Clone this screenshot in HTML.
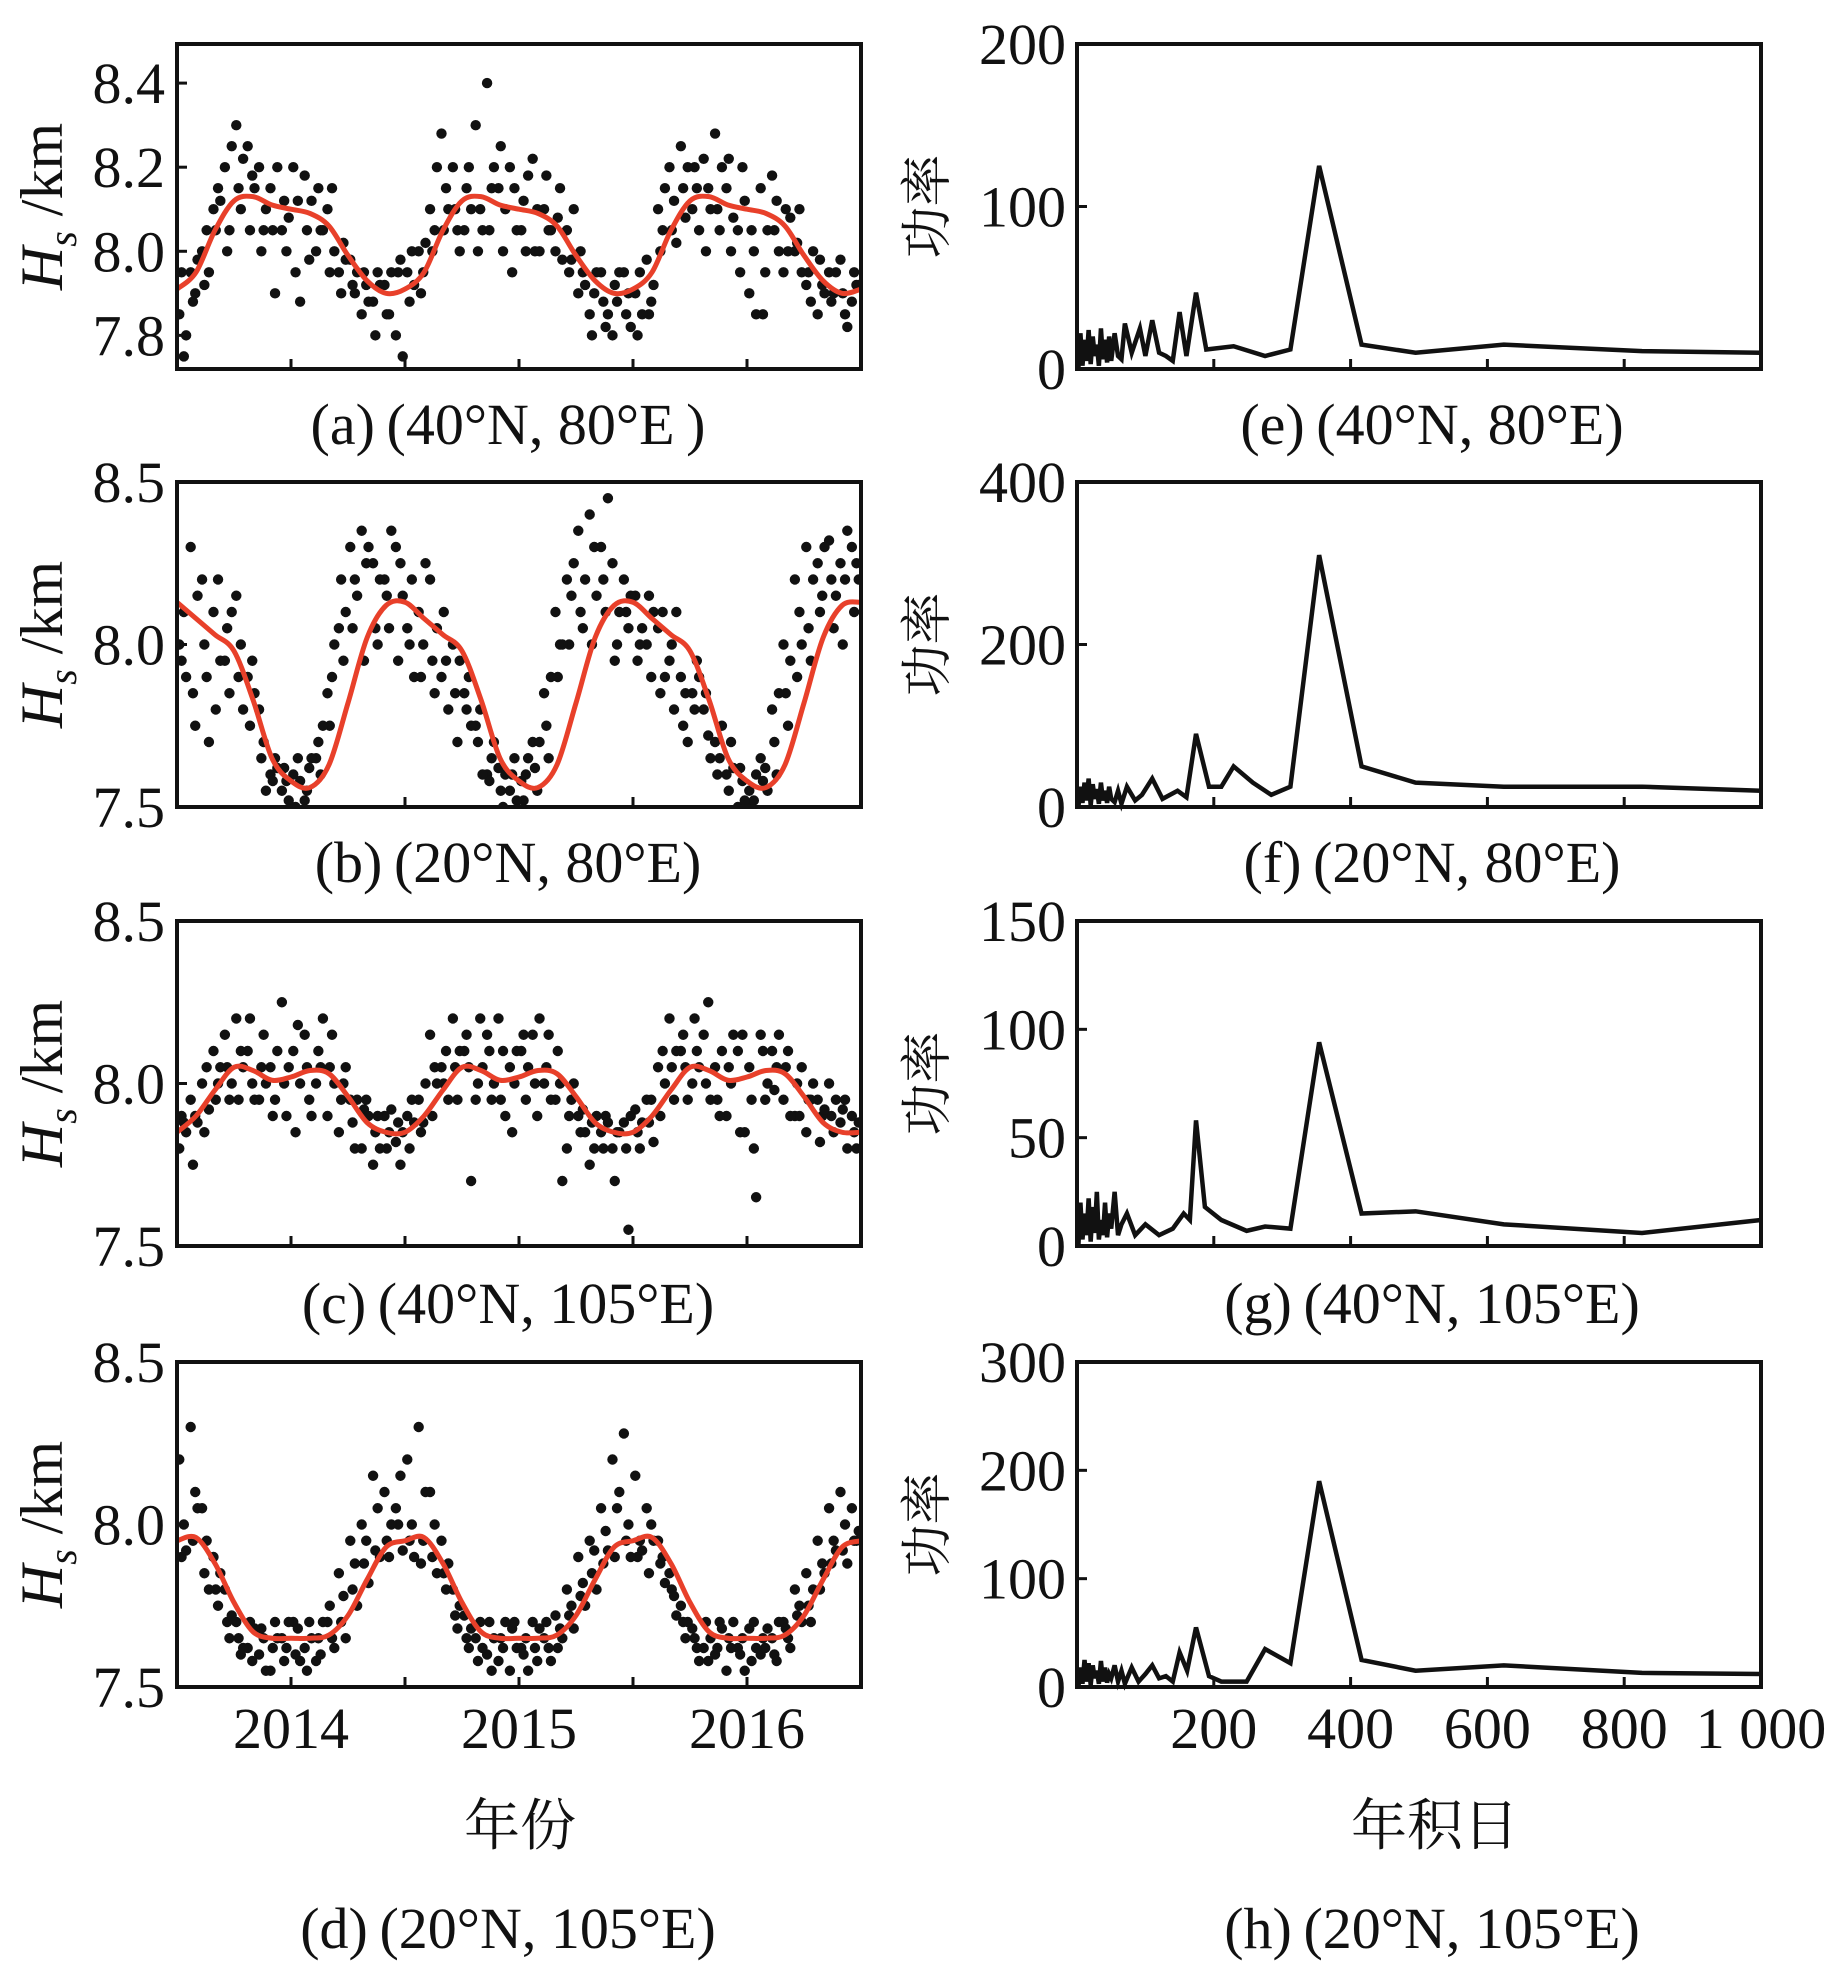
<!DOCTYPE html>
<html><head><meta charset="utf-8"><style>
html,body{margin:0;padding:0;background:#fff}
svg{display:block}
text{font-family:"Liberation Serif","Noto Serif CJK SC",serif;fill:#111}
</style></head><body>
<svg id="fig" width="1843" height="1961" viewBox="0 0 1843 1961" xmlns="http://www.w3.org/2000/svg"></svg>
<script>
// ---------- data ----------
const yearTicks=[2014,2015,2016];
const curveA=[7.91,7.95,8.05,8.12,8.13,8.11,8.10,8.09,8.06,7.99,7.93,7.90];
const curveB=[8.13,8.08,8.03,7.98,7.83,7.65,7.58,7.56,7.63,7.82,8.02,8.12];
const curveC=[7.85,7.90,7.98,8.05,8.04,8.01,8.02,8.04,8.03,7.96,7.88,7.85];
const curveD=[7.95,7.96,7.88,7.76,7.67,7.65,7.65,7.65,7.66,7.72,7.83,7.93];
const aS1=[7.85,7.95,8.00,8.10,8.20,8.30,8.25,8.20,8.15,8.05,8.20,8.18,8.00,8.10,7.95,7.98,7.85,7.88,7.92,7.80,7.95,8.00,8.10,8.28,8.20,8.05,8.30,8.40,8.15,8.20,8.05,8.22,8.10,8.00,8.05,7.90,7.85,7.95,7.80,7.95,7.90,7.98,8.10,8.20,8.25,8.10,8.22,8.28,8.15,8.05,7.90,8.15,8.18,7.95,8.00,7.92,7.85,7.95,7.98,7.88];
const aS2=[7.95,7.88,7.92,8.05,8.00,8.15,8.05,8.00,8.05,8.12,7.95,8.05,8.15,7.95,7.90,7.92,7.95,7.80,7.85,7.95,7.88,7.90,8.00,8.05,8.10,8.15,8.00,8.05,8.25,7.95,8.12,8.00,8.18,8.08,7.95,8.00,7.80,7.88,7.92,7.85,7.80,7.85,8.00,8.05,8.15,8.20,8.00,8.10,8.22,7.95,8.05,7.85,8.05,8.10,8.02,7.95,7.98,7.88,7.90,7.95];
const aS3=[7.75,7.90,8.05,8.15,8.05,8.10,8.18,8.05,7.90,8.00,8.12,7.98,8.05,8.15,8.02,7.90,7.92,7.95,7.85,7.98,8.00,7.95,8.05,8.15,8.05,8.20,8.10,8.15,8.00,8.15,8.00,8.10,8.05,8.15,7.98,7.95,7.90,7.82,7.88,7.90,7.95,7.88,8.05,8.12,8.08,8.15,8.15,8.05,8.00,8.20,8.00,7.95,8.12,8.00,8.10,7.88,7.92,7.90,7.85,7.92];
const aS4=[7.80,7.98,7.95,8.12,8.25,8.22,8.15,8.10,8.20,8.08,7.88,8.12,8.05,8.00,7.98,7.95,7.88,7.92,7.95,7.75,7.92,8.02,8.20,8.10,8.00,8.10,8.05,8.20,8.10,8.05,8.18,8.00,8.05,7.98,8.10,7.92,7.95,7.85,7.95,7.82,7.85,7.92,8.15,8.02,8.20,8.05,8.10,8.20,8.08,8.12,7.85,8.05,8.00,8.08,7.95,8.00,7.90,7.95,7.82,7.92];
const bS1=[8.00,8.30,8.20,8.10,7.95,8.15,7.90,7.80,7.60,7.55,7.60,7.52,7.65,7.85,8.05,8.30,8.35,8.25,8.20,8.30,8.05,8.10,8.20,7.90,8.00,7.85,7.75,7.60,7.62,7.55,7.58,7.70,7.85,8.10,8.20,8.35,8.40,8.30,8.25,8.20,8.15,8.00,8.05,7.95,7.90,7.85,7.80,7.70,7.60,7.50,7.55,7.65,7.80,8.00,8.20,8.30,8.25,8.32,8.25,8.30];
const bS2=[7.95,7.85,8.00,7.80,8.05,7.90,7.75,7.65,7.58,7.62,7.50,7.55,7.70,7.75,8.20,8.05,7.95,8.05,8.15,7.95,8.00,7.90,7.95,8.10,7.85,7.80,7.70,7.58,7.55,7.60,7.52,7.62,7.75,7.90,8.00,8.10,8.00,8.20,7.95,8.10,7.95,8.15,7.85,8.00,7.75,7.80,7.85,7.60,7.55,7.62,7.50,7.58,7.70,7.85,7.90,8.05,8.10,8.20,8.00,8.10];
const bS3=[8.10,7.75,7.90,8.20,7.85,8.00,7.95,7.70,7.65,7.58,7.65,7.62,7.60,7.90,7.95,8.20,8.25,8.00,8.05,8.25,8.20,8.00,7.85,7.95,7.70,7.90,7.80,7.65,7.50,7.65,7.60,7.55,7.65,8.00,8.15,8.05,8.30,8.10,8.00,8.05,8.00,7.90,8.10,7.80,7.85,7.95,7.72,7.65,7.70,7.58,7.52,7.62,7.60,7.75,8.10,7.95,8.15,8.05,8.20,8.25];
const bS4=[7.90,8.15,7.70,7.95,8.10,7.80,7.85,7.55,7.62,7.52,7.58,7.65,7.75,8.00,8.10,8.15,8.30,8.20,8.35,8.15,7.90,8.25,8.05,7.80,7.95,7.75,7.60,7.70,7.60,7.52,7.65,7.70,7.90,8.00,8.25,8.20,8.15,8.45,8.10,8.15,8.05,8.10,7.90,8.10,7.70,7.90,7.65,7.75,7.62,7.52,7.60,7.55,7.85,7.95,8.00,8.20,8.30,8.15,8.35,8.20];
const cS1=[7.80,7.95,8.00,8.10,8.15,8.20,8.10,7.95,8.05,8.25,8.10,8.15,8.00,7.90,7.85,7.95,7.80,7.75,7.90,7.82,7.90,7.95,8.15,8.05,8.20,8.10,7.95,8.15,8.20,8.05,8.10,8.15,8.00,7.95,7.80,7.90,7.75,7.85,7.80,7.88,7.92,7.95,8.05,8.20,8.10,8.00,8.15,8.05,7.90,8.10,8.05,8.15,8.10,7.95,7.90,7.85,7.95,8.00,7.88,7.90];
const cS2=[7.90,7.75,7.85,7.95,8.05,7.95,8.20,8.05,7.90,8.00,7.85,8.05,8.10,8.05,7.95,7.88,7.92,7.85,7.80,7.88,7.80,7.85,7.90,8.00,8.05,8.15,8.00,8.10,7.95,7.85,8.15,8.00,8.05,8.10,7.90,7.85,7.88,7.80,7.70,7.80,7.85,7.88,7.90,8.05,8.15,8.20,8.00,7.95,8.05,7.85,7.95,8.10,7.98,8.05,8.00,7.95,7.82,7.90,7.92,7.85];
const cS3=[7.88,7.90,8.05,8.00,7.95,8.10,8.00,8.15,7.95,7.90,8.18,7.95,8.05,8.15,8.00,7.80,7.95,7.90,7.85,7.75,7.95,7.88,8.05,8.10,7.95,8.05,8.20,7.95,8.10,8.00,7.95,7.90,8.15,8.00,7.95,7.92,7.80,7.90,7.85,7.55,7.80,7.95,8.10,7.95,8.05,8.10,8.25,7.90,8.00,8.15,7.80,7.95,8.05,8.10,7.90,7.95,7.90,7.85,7.95,7.80];
const cS4=[7.85,7.88,7.92,8.05,8.00,8.05,7.95,8.00,8.10,8.05,8.00,7.90,8.20,8.00,8.05,7.95,7.90,7.80,7.92,7.85,7.88,8.00,8.00,7.95,8.10,7.70,8.05,8.00,7.90,8.10,8.05,8.20,7.95,7.70,8.00,7.85,7.90,7.88,7.85,7.90,7.88,7.82,8.00,8.10,7.95,8.05,7.95,8.10,8.15,7.85,7.65,8.00,8.15,7.90,8.05,8.00,7.92,7.95,7.80,7.88];
const dS1=[8.20,8.30,8.05,7.90,7.80,7.70,7.62,7.60,7.55,7.65,7.70,7.62,7.58,7.70,7.85,7.95,8.00,8.15,8.10,8.05,8.20,8.30,8.10,7.95,7.80,7.72,7.65,7.60,7.58,7.55,7.62,7.70,7.65,7.72,7.80,7.90,7.95,8.05,8.20,8.28,8.15,8.05,7.95,7.85,7.75,7.68,7.62,7.60,7.55,7.62,7.68,7.60,7.65,7.70,7.80,7.85,7.95,8.05,8.10,8.05];
const dS2=[7.90,7.95,7.85,7.80,7.70,7.65,7.70,7.68,7.62,7.58,7.60,7.55,7.65,7.75,7.70,7.80,7.88,7.92,7.95,8.00,7.95,7.88,7.90,7.85,7.72,7.65,7.58,7.70,7.65,7.68,7.60,7.62,7.70,7.62,7.72,7.78,7.85,7.88,7.90,7.95,7.90,7.85,7.88,7.80,7.70,7.65,7.70,7.62,7.65,7.60,7.58,7.65,7.60,7.68,7.72,7.75,7.80,7.88,7.92,7.95];
const dS3=[8.00,8.10,7.95,7.75,7.65,7.60,7.58,7.65,7.70,7.62,7.68,7.70,7.60,7.65,7.78,7.88,7.95,8.05,7.90,8.15,8.00,7.95,8.00,7.80,7.68,7.62,7.70,7.55,7.62,7.70,7.65,7.58,7.62,7.68,7.75,7.82,7.92,7.98,8.05,8.00,7.95,8.00,7.90,7.78,7.65,7.62,7.58,7.70,7.62,7.65,7.70,7.62,7.58,7.65,7.75,7.70,7.88,7.95,8.00,7.95];
const dS4=[7.92,8.05,7.80,7.85,7.72,7.62,7.68,7.55,7.65,7.70,7.58,7.65,7.70,7.62,7.65,7.75,7.82,7.90,8.00,7.92,7.90,8.10,7.85,7.88,7.75,7.68,7.62,7.65,7.70,7.62,7.55,7.68,7.58,7.65,7.68,7.75,7.80,7.92,8.10,7.90,7.92,7.95,7.82,7.72,7.70,7.58,7.65,7.68,7.70,7.55,7.62,7.68,7.70,7.62,7.70,7.80,7.85,7.92,7.88,7.98];
const dayTicks=[200,400,600,800];
const eX=[2,5,8,11,14,17,20,23,26,29,32,35,38,41,44,47,50,55,60,65,70,80,92,100,110,120,130,140,150,160,174,189,229,275,312,354,416,495,624,826,1000];
const eY=[0,22,2,18,5,24,3,20,8,15,2,25,6,18,4,20,5,22,8,6,28,10,25,8,30,10,8,5,35,8,47,12,14,8,12,125,15,10,15,11,10];
const fX=[2,5,8,11,14,17,20,23,26,29,32,35,38,41,44,47,50,55,60,65,73,85,95,110,125,147,160,174,193,211,229,257,284,312,354,416,495,624,826,1000];
const fY=[0,25,5,30,8,35,2,28,10,22,4,30,8,20,5,25,10,6,20,4,25,8,15,35,10,20,12,90,25,25,50,30,15,25,310,50,30,25,25,20];
const gX=[2,5,8,11,14,17,20,23,26,29,32,35,38,41,44,47,50,55,60,65,73,85,100,120,140,156,165,174,187,211,248,275,312,354,416,495,624,826,1000];
const gY=[0,20,3,15,5,22,2,18,6,25,3,12,5,20,4,15,8,25,5,10,15,5,10,5,8,15,12,58,18,12,7,9,8,94,15,16,10,6,12];
const hX=[2,5,8,11,14,17,20,23,26,29,32,35,38,41,44,47,50,55,60,65,70,80,90,100,110,120,130,140,150,161,174,193,211,248,275,312,354,416,495,624,826,1000];
const hY=[0,18,3,25,5,22,2,20,8,15,3,24,5,18,4,12,8,20,5,15,3,18,5,12,20,8,10,5,32,15,55,10,5,5,35,22,190,25,15,20,13,12];

// ---------- drawing ----------
const NS="http://www.w3.org/2000/svg";
const svg=document.getElementById('fig');
function mk(tag,attrs,parent){const e=document.createElementNS(NS,tag);for(const k in attrs)e.setAttribute(k,attrs[k]);(parent||svg).appendChild(e);return e;}

const rows=[44,482,921,1362], H=325;
const LX0=177,LX1=861, RX0=1077,RX1=1761;

function catmull(pts){let d='M'+pts[0][0]+','+pts[0][1];for(let i=0;i<pts.length-1;i++){const p0=pts[Math.max(i-1,0)],p1=pts[i],p2=pts[i+1],p3=pts[Math.min(i+2,pts.length-1)];d+=' C'+(p1[0]+(p2[0]-p0[0])/6)+','+(p1[1]+(p2[1]-p0[1])/6)+' '+(p2[0]-(p3[0]-p1[0])/6)+','+(p2[1]-(p3[1]-p1[1])/6)+' '+p2[0]+','+p2[1];}return d;}

const leftPanels=[
 {id:'a',ymin:7.72,ymax:8.493,ticks:[7.8,8.0,8.2,8.4],curve:curveA,series:[aS1,aS2,aS3,aS4],cap:'(a)\u2009(40°N, 80°E\u2009)'},
 {id:'b',ymin:7.5,ymax:8.5,ticks:[7.5,8.0,8.5],curve:curveB,series:[bS1,bS2,bS3,bS4],cap:'(b)\u2009(20°N, 80°E)'},
 {id:'c',ymin:7.5,ymax:8.5,ticks:[7.5,8.0,8.5],curve:curveC,series:[cS1,cS2,cS3,cS4],cap:'(c)\u2009(40°N, 105°E)'},
 {id:'d',ymin:7.5,ymax:8.5,ticks:[7.5,8.0,8.5],curve:curveD,series:[dS1,dS2,dS3,dS4],cap:'(d)\u2009(20°N, 105°E)'}
];
const rightPanels=[
 {id:'e',ymax:200,ticks:[0,100,200],xs:eX,ys:eY,cap:'(e)\u2009(40°N, 80°E)'},
 {id:'f',ymax:400,ticks:[0,200,400],xs:fX,ys:fY,cap:'(f)\u2009(20°N, 80°E)'},
 {id:'g',ymax:150,ticks:[0,50,100,150],xs:gX,ys:gY,cap:'(g)\u2009(40°N, 105°E)'},
 {id:'h',ymax:300,ticks:[0,100,200,300],xs:hX,ys:hY,cap:'(h)\u2009(20°N, 105°E)'}
];
const capY=[424,862,1303,1928];

leftPanels.forEach((p,i)=>{
  const top=rows[i], bot=top+H;
  const g=mk('g',{});
  
  
  const sx=t=>LX0+(t-2013.5)/3*(LX1-LX0);
  const sy=v=>bot-(v-p.ymin)/(p.ymax-p.ymin)*H;
  const clip=mk('clipPath',{id:'clip'+p.id},g);
  mk('rect',{x:LX0,y:top,width:LX1-LX0,height:H},clip);
  const dots=mk('g',{'clip-path':'url(#clip'+p.id+')',fill:'#111'},g);
  
  
  p.series.forEach((s,si)=>{
    s.forEach((v,k)=>{
      const t=2013.5+(k+0.2+si*0.2)*3/s.length;
      const c=mk('circle',{cx:sx(t),cy:sy(v),r:5.2},dots);
      
      
    });
  });
  const pts=[];
  for(let m=0;m<=36;m++){pts.push([sx(2013.5+m/12),sy(p.curve[m%12])]);}
  const cp=mk('path',{d:catmull(pts),fill:'none',stroke:'#e8402a','stroke-width':5,'clip-path':'url(#clip'+p.id+')'},g);
  
  
  const fr=mk('rect',{x:LX0,y:top,width:LX1-LX0,height:H,fill:'none',stroke:'#111','stroke-width':4},g);
  
  
  [2014,2014.5,2015,2015.5,2016].forEach(t=>{mk('line',{x1:sx(t),x2:sx(t),y1:bot,y2:bot-10,stroke:'#111','stroke-width':3},g);});
  p.ticks.forEach(v=>{
    mk('line',{x1:LX0,x2:LX0+10,y1:sy(v),y2:sy(v),stroke:'#111','stroke-width':3},g);
    const tl=mk('text',{x:165,y:sy(v)+20,'text-anchor':'end','font-size':58},g);
    tl.textContent=v.toFixed(1);
    
    
  });
  const yt=mk('text',{transform:'translate(62,'+(top+H/2)+') rotate(-90)','text-anchor':'middle','font-size':60},g);
  yt.innerHTML='<tspan font-style="italic">H</tspan><tspan font-style="italic" font-size="40" dy="14">s</tspan><tspan dy="-14"> /km</tspan>';
  
  
  const ct=mk('text',{x:508,y:capY[i]+20,'text-anchor':'middle','font-size':58},g);
  ct.textContent=p.cap;
  
  
  if(i===3){
    yearTicks.forEach(y=>{
      const t=mk('text',{x:sx(y),y:1748,'text-anchor':'middle','font-size':58},g);
      t.textContent=y;
      
      
    });
  }
});

rightPanels.forEach((p,i)=>{
  const top=rows[i], bot=top+H;
  const g=mk('g',{});
  
  
  const sx=d=>RX0+d/1000*(RX1-RX0);
  const sy=v=>bot-v/p.ymax*H;
  const pts=p.xs.map((d,k)=>sx(d)+','+sy(p.ys[k])).join(' ');
  const ln=mk('polyline',{points:pts,fill:'none',stroke:'#111','stroke-width':4.5,'stroke-linejoin':'miter'},g);
  
  
  const fr=mk('rect',{x:RX0,y:top,width:RX1-RX0,height:H,fill:'none',stroke:'#111','stroke-width':4},g);
  
  
  dayTicks.forEach(d=>{mk('line',{x1:sx(d),x2:sx(d),y1:bot,y2:bot-10,stroke:'#111','stroke-width':3},g);});
  p.ticks.forEach(v=>{
    mk('line',{x1:RX0,x2:RX0+10,y1:sy(v),y2:sy(v),stroke:'#111','stroke-width':3},g);
    const tl=mk('text',{x:1066,y:sy(v)+20,'text-anchor':'end','font-size':58},g);
    tl.textContent=v;
    
    
  });
  const yt=mk('text',{transform:'translate(945,'+(top+H/2)+') rotate(-90)','text-anchor':'middle','font-size':52},g);
  yt.textContent='功率';
  
  
  const ct=mk('text',{x:1432,y:capY[i]+20,'text-anchor':'middle','font-size':58},g);
  ct.textContent=p.cap;
  
  
  if(i===3){
    dayTicks.concat([1000]).forEach(d=>{
      const t=mk('text',{x:sx(d),y:1748,'text-anchor':'middle','font-size':58},g);
      t.textContent=d===1000?'1 000':d;
      
      
    });
  }
});
const xl=mk('text',{x:520,y:1845,'text-anchor':'middle','font-size':56});
xl.textContent='年份';


const xr=mk('text',{x:1435,y:1845,'text-anchor':'middle','font-size':56});
xr.textContent='年积日';


</script>
</body></html>
